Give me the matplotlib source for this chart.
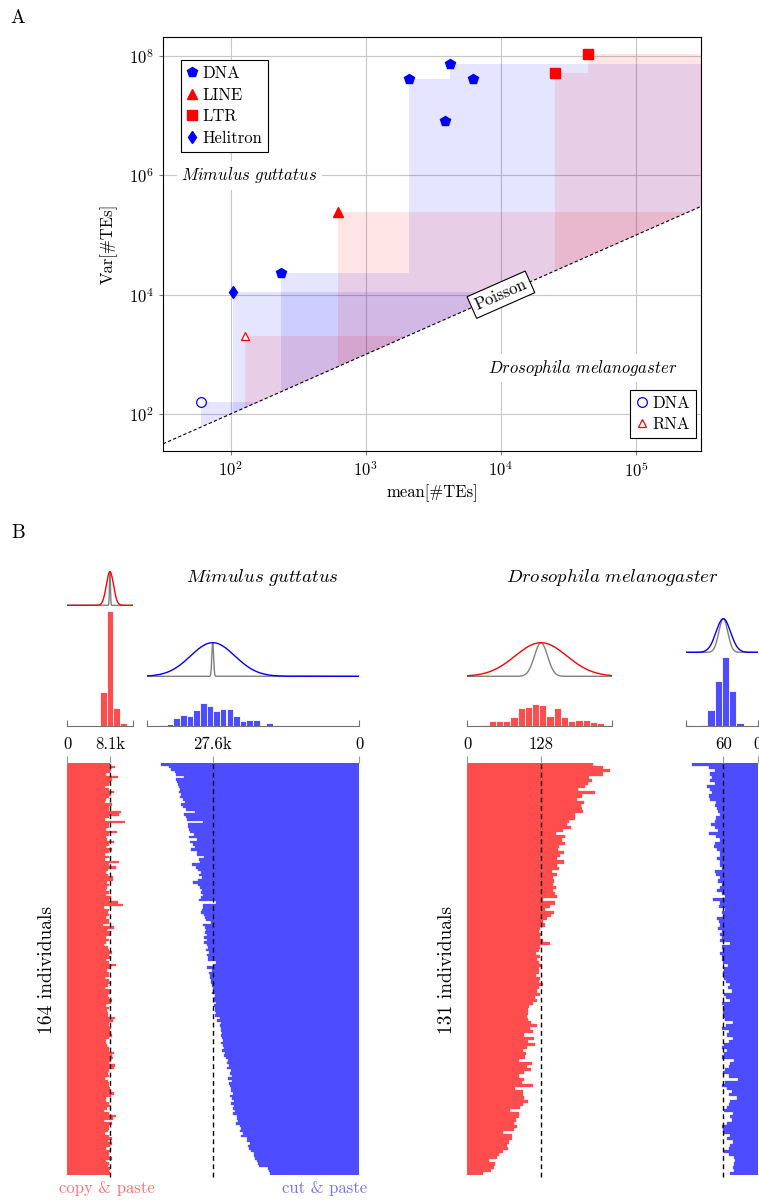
import numpy as np
import matplotlib
matplotlib.use('Agg')
import matplotlib.pyplot as plt
from matplotlib.path import Path
from matplotlib.patches import PathPatch

plt.rcParams['font.family'] = 'serif'
plt.rcParams['font.serif'] = ['cmr10']
plt.rcParams['mathtext.fontset'] = 'cm'
plt.rcParams['axes.formatter.use_mathtext'] = True
plt.rcParams['font.size'] = 12

# ---- panel A: mean / variance of TE counts per family ----
mg_dna_mean = [2089, 4169, 6194, 3852, 236]
mg_dna_var = [4.11e7, 7.43e7, 4.06e7, 8.22e6, 2.28e4]
mg_line_mean = [627]
mg_line_var = [2.40e5]
mg_ltr_mean = [25060, 44150]
mg_ltr_var = [5.19e7, 1.07e8]
mg_heli_mean = [105]
mg_heli_var = [1.10e4]
dm_dna_mean = [60]
dm_dna_var = [161]
dm_rna_mean = [128]
dm_rna_var = [2050]

# ---- panel B: TE counts per individual ----
# Mimulus guttatus, thousands of copies
mg_copy = [
    8.1, 9.1, 8.3, 8.1, 7.3, 9.7, 8.4, 8.1, 7.9, 7.2,
    8.0, 8.8, 8.3, 7.9, 7.4, 7.1, 8.4, 7.9, 8.0, 10.2,
    9.8, 7.9, 7.2, 10.9, 8.0, 7.9, 7.3, 9.5, 8.0, 7.4,
    7.6, 8.9, 8.0, 7.3, 8.4, 8.0, 7.2, 7.9, 7.1, 9.8,
    8.0, 9.3, 7.8, 7.3, 7.8, 8.7, 8.6, 7.6, 7.9, 7.5,
    7.3, 8.0, 7.4, 8.3, 8.0, 9.7, 10.5, 6.9, 8.0, 7.7,
    8.0, 7.3, 7.9, 8.0, 6.7, 8.9, 7.6, 8.3, 8.1, 7.3,
    8.0, 7.4, 7.0, 7.8, 7.9, 8.5, 7.9, 8.1, 7.3, 7.9,
    9.2, 8.2, 7.5, 7.9, 8.0, 7.2, 8.0, 8.1, 7.8, 7.1,
    8.1, 8.2, 7.8, 7.9, 8.5, 8.3, 7.3, 7.9, 7.6, 7.8,
    7.8, 9.1, 8.6, 8.0, 7.9, 8.3, 8.1, 8.3, 8.5, 7.9,
    7.4, 7.3, 7.6, 7.9, 8.0, 8.9, 8.5, 8.6, 8.3, 8.0,
    9.1, 8.9, 8.0, 7.8, 8.0, 7.2, 7.8, 8.0, 7.9, 8.1,
    8.2, 8.9, 8.3, 7.3, 7.4, 7.9, 8.3, 7.6, 7.0, 7.9,
    9.3, 8.6, 7.0, 8.5, 7.9, 7.9, 7.8, 7.2, 8.0, 8.5,
    7.7, 8.4, 8.1, 7.4, 8.2, 8.0, 7.9, 8.4, 7.3, 8.0,
    7.8, 8.2, 7.9, 8.1]
mg_cut = [
    37.3, 35.9, 35.4, 34.8, 34.6, 33.0, 34.5, 34.3, 34.1, 33.9,
    33.8, 34.0, 33.6, 33.7, 33.2, 32.9, 33.6, 33.3, 32.7, 30.9,
    33.0, 32.6, 32.5, 29.4, 32.3, 32.2, 32.0, 31.9, 31.2, 32.1,
    30.6, 31.8, 31.4, 30.9, 31.7, 30.5, 30.6, 29.3, 30.1, 30.0,
    31.5, 30.7, 30.4, 29.9, 30.2, 29.6, 30.3, 31.3, 30.3, 30.0,
    29.7, 29.9, 29.5, 29.8, 30.2, 27.0, 29.5, 29.4, 29.6, 29.8,
    29.3, 29.0, 28.9, 27.9, 29.4, 29.1, 28.8, 29.0, 28.7, 29.2,
    28.7, 29.2, 28.6, 28.4, 28.9, 28.3, 28.7, 28.5, 28.4, 27.0,
    27.4, 28.6, 27.8, 28.3, 28.2, 28.1, 27.9, 28.0, 27.7, 27.6,
    27.3, 27.8, 27.2, 27.4, 27.4, 27.0, 27.3, 27.2, 27.1, 26.9,
    27.2, 26.2, 26.7, 26.0, 26.2, 26.1, 26.1, 25.9, 26.0, 25.8,
    25.7, 26.1, 25.6, 25.5, 25.9, 25.3, 25.5, 25.1, 24.8, 24.9,
    24.6, 24.9, 24.2, 24.4, 24.0, 24.7, 23.9, 24.5, 24.3, 24.1,
    24.2, 23.7, 24.4, 24.0, 23.6, 24.1, 23.6, 23.7, 23.4, 23.7,
    23.1, 23.0, 22.9, 23.3, 22.4, 22.3, 22.4, 21.9, 22.2, 21.2,
    21.1, 20.5, 20.9, 20.7, 20.3, 19.9, 19.9, 19.6, 19.2, 19.0,
    18.8, 17.2, 17.0, 16.8]
# Drosophila melanogaster, copies
dm_copy = [
    218.5, 236.0, 247.4, 234.7, 211.6, 215.7, 209.9, 204.2, 192.6, 221.5,
    198.4, 189.7, 202.4, 196.6, 198.4, 201.3, 186.9, 186.9, 177.0, 173.6,
    179.4, 165.5, 154.0, 169.6, 163.8, 169.6, 159.7, 158.0, 167.2, 160.5,
    155.1, 167.2, 156.3, 159.7, 146.4, 155.1, 149.3, 150.5, 149.3, 154.0,
    148.2, 152.2, 156.3, 130.9, 152.2, 143.6, 134.9, 150.5, 144.7, 139.0,
    130.9, 135.5, 126.3, 124.0, 128.6, 126.3, 130.9, 143.6, 126.3, 124.0,
    119.4, 126.3, 121.7, 124.0, 130.3, 125.1, 125.1, 119.4, 126.3, 124.0,
    130.9, 124.0, 121.7, 126.3, 117.6, 120.5, 113.6, 108.0, 106.1, 106.1,
    103.0, 106.1, 110.1, 121.7, 109.0, 113.6, 98.6, 115.9, 106.1, 118.2,
    103.2, 97.5, 102.1, 101.0, 89.4, 111.9, 104.4, 110.0, 98.6, 89.4,
    98.6, 94.6, 113.6, 83.0, 96.3, 97.5, 98.6, 106.1, 97.5, 91.7,
    74.4, 90.5, 90.5, 84.0, 81.3, 85.9, 81.3, 61.7, 77.3, 77.3,
    73.2, 68.6, 71.5, 61.7, 56.0, 52.5, 38.6, 49.0, 46.7, 41.0,
    27.1]
dm_cut = [
    114.9, 85.3, 74.5, 82.4, 79.5, 83.6, 74.0, 88.1, 83.6, 79.5,
    85.3, 82.4, 73.0, 73.8, 70.9, 69.7, 66.3, 72.0, 73.8, 81.2,
    74.8, 69.7, 85.3, 72.0, 66.3, 73.8, 75.5, 70.9, 65.2, 66.3,
    70.9, 65.2, 66.3, 62.0, 74.4, 72.0, 66.3, 69.7, 62.0, 66.3,
    70.9, 62.3, 56.6, 77.8, 66.3, 68.0, 56.6, 62.3, 59.5, 70.9,
    68.0, 65.2, 68.6, 62.3, 66.3, 62.0, 65.2, 48.0, 62.3, 60.6,
    66.3, 62.3, 62.3, 60.6, 52.6, 59.5, 60.6, 60.6, 58.3, 54.9,
    49.2, 52.6, 45.2, 59.5, 54.9, 48.0, 62.3, 59.5, 59.5, 60.6,
    58.3, 56.6, 43.5, 54.9, 62.3, 49.5, 53.7, 43.5, 49.5, 59.5,
    62.3, 53.7, 59.5, 62.3, 42.3, 49.2, 49.5, 56.6, 60.6, 49.5,
    33.8, 56.6, 62.0, 53.7, 45.2, 49.5, 36.5, 48.0, 50.9, 53.7,
    59.5, 43.5, 49.2, 45.2, 53.7, 62.3, 60.6, 58.3, 48.0, 53.7,
    43.5, 48.0, 50.9, 58.3, 50.9, 42.3, 39.5, 41.2, 43.5, 42.3,
    48.0]
mean_labels = ['8.1k', '27.6k', '128', '60']
mean_vals = [8.1, 27.6, 128, 60]

W, H = 759, 1201
fig = plt.figure(figsize=(W / 100, H / 100), dpi=100)


def box(x0, y0, x1, y1):
    # axes placed by pixel corners, origin top-left
    return fig.add_axes([x0 / W, 1 - y1 / H, (x1 - x0) / W, (y1 - y0) / H])


blue = (0, 0, 1)
red = (1, 0, 0)

# ================= A =================
ax = box(163, 37, 701, 451)
ax.set_xscale('log')
ax.set_yscale('log')
ax.set_xlim(10 ** 1.5, 10 ** 5.48)
ax.set_ylim(10 ** 1.38, 10 ** 8.32)
ax.set_xticks([1e2, 1e3, 1e4, 1e5])
ax.set_yticks([1e2, 1e4, 1e6, 1e8])
ax.xaxis.set_minor_locator(plt.NullLocator())
ax.yaxis.set_minor_locator(plt.NullLocator())
ax.set_axisbelow(True)
ax.grid(True, color='0.78', lw=0.8)
ax.tick_params(direction='out', length=3, color='0.5', labelsize=12)
for sp in ax.spines.values():
    sp.set_linewidth(0.8)
xlo, xhi = ax.get_xlim()


def region(means, vars_, color):
    # area between the Poisson line and each family's variance, right of its mean;
    # one compound path per family so its own pieces do not stack
    parts = []
    for m, v in zip(means, vars_):
        e = min(v, xhi)
        parts.append(Path([(m, m), (m, v), (e, v), (e, e), (m, m)], closed=True))
    ax.add_patch(PathPatch(Path.make_compound_path(*parts), fc=color, alpha=0.1, lw=0))


region(mg_dna_mean, mg_dna_var, blue)
region(mg_heli_mean, mg_heli_var, blue)
region(dm_dna_mean, dm_dna_var, blue)
region(mg_line_mean, mg_line_var, red)
region(mg_ltr_mean, mg_ltr_var, red)
region(dm_rna_mean, dm_rna_var, red)

ax.plot([xlo, xhi], [xlo, xhi], color='black', lw=0.8, dashes=(3, 2))

h1, = ax.plot(mg_dna_mean, mg_dna_var, ls='none', marker='p', ms=7.5, color=blue, label='DNA')
h2, = ax.plot(mg_line_mean, mg_line_var, ls='none', marker='^', ms=6.5, color=red, label='LINE')
h3, = ax.plot(mg_ltr_mean, mg_ltr_var, ls='none', marker='s', ms=6.5, color=red, label='LTR')
h4, = ax.plot(mg_heli_mean, mg_heli_var, ls='none', marker='d', ms=6.5, color=blue, label='Helitron')
h5, = ax.plot(dm_dna_mean, dm_dna_var, ls='none', marker='o', ms=7, mfc='white', mec=blue, mew=0.9, label='DNA')
h6, = ax.plot(dm_rna_mean, dm_rna_var, ls='none', marker='^', ms=6, mfc='white', mec=red, mew=0.9, label='RNA')

leg_kw = dict(frameon=True, fancybox=False, edgecolor='black', framealpha=1,
              handlelength=0.7, handletextpad=0.25, borderpad=0.35,
              labelspacing=0.38, borderaxespad=0, fontsize=12, numpoints=1)
leg1 = ax.legend(handles=[h1, h2, h3, h4], loc='upper left',
                 bbox_to_anchor=(0.033, 0.945), **leg_kw)
leg1.get_frame().set_linewidth(0.8)
ax.add_artist(leg1)
leg2 = ax.legend(handles=[h5, h6], loc='lower right',
                 bbox_to_anchor=(0.99, 0.031), **leg_kw)
leg2.get_frame().set_linewidth(0.8)

ax.text(138, 1e6, r'$\mathit{Mimulus\ guttatus}$', ha='center', va='center',
        fontsize=12, bbox=dict(fc='white', ec='none', pad=3))
ax.text(39900, 590, r'$\mathit{Drosophila\ melanogaster}$', ha='center', va='center',
        fontsize=12, bbox=dict(fc='white', ec='none', pad=3))
p = ax.transData.transform([(1e3, 1e3), (1e4, 1e4)])
ang = np.degrees(np.arctan2(p[1, 1] - p[0, 1], p[1, 0] - p[0, 0]))
ax.text(1e4, 1e4, 'Poisson', rotation=ang, rotation_mode='anchor', ha='center',
        va='center', fontsize=12,
        bbox=dict(fc='white', ec='black', lw=0.8, boxstyle='square,pad=0.25'))

ax.set_xlabel('mean[#TEs]', labelpad=3)
ax.set_ylabel('Var[#TEs]', labelpad=8)

fig.text(18 / W, 1 - 18 / H, 'A', fontsize=14, ha='center', va='center')
fig.text(18 / W, 1 - 533 / H, 'B', fontsize=14, ha='center', va='center')

# ================= B =================
bar_red = (1, 0.3, 0.3)
bar_blue = (0.3, 0.3, 1)


def column(x0, x1, vals, mean, label, lim, fill, line, bin_w, unit, cy0, cy1):
    n = len(vals)
    # horizontal bars, one per individual
    axb = box(x0, 763, x1, 1175)
    axb.barh(np.arange(n), vals, height=1.0, color=fill, ec=fill, lw=0.2)
    axb.set_ylim(n - 0.5, -0.5)
    axb.set_xlim(*lim)
    axb.axvline(mean, ymin=-0.005, color='black', lw=1.0, dashes=(3.5, 2.5), clip_on=False)
    axb.xaxis.tick_top()
    axb.set_xticks([0, mean])
    axb.set_xticklabels(['0', label])
    axb.tick_params(axis='x', length=5, width=0.8, color='0.6', pad=3, labelsize=12)
    axb.set_yticks([])
    for sp in axb.spines.values():
        sp.set_visible(False)

    # histogram as fraction of individuals
    axh = box(x0, 610, x1, 726)
    edges = np.arange(0, max(lim) + bin_w / 2, bin_w)
    axh.hist(vals, bins=edges, weights=np.full(n, 1.0 / n), color=fill,
             ec='white', lw=0.6)
    axh.set_xlim(*lim)
    axh.set_ylim(0, 116 / 170)
    axh.set_xticks(list(lim))
    axh.set_xticklabels([])
    axh.tick_params(axis='x', direction='in', length=4, width=0.8, color='0.45')
    axh.set_yticks([])
    for s in ('top', 'left', 'right'):
        axh.spines[s].set_visible(False)
    axh.spines['bottom'].set_color('0.45')
    axh.spines['bottom'].set_linewidth(0.8)

    # observed spread against the Poisson expectation
    axc = box(x0, cy0, x1, cy1)
    xs = np.linspace(min(lim), max(lim), 3000)
    sd = np.std(vals)
    sd_p = np.sqrt(mean * unit) / unit
    axc.plot(xs, np.exp(-0.5 * ((xs - mean) / sd_p) ** 2), color='0.5', lw=1.0)
    axc.plot(xs, np.exp(-0.5 * ((xs - mean) / sd) ** 2), color=line, lw=1.0)
    axc.set_xlim(*lim)
    axc.set_ylim(-0.02, 1.05)
    axc.axis('off')


column(67, 133.25, mg_copy, mean_vals[0], mean_labels[0], (0, 12.5), bar_red, red, 1.25, 1000, 570, 606)
column(147, 359, mg_cut, mean_vals[1], mean_labels[1], (40, 0), bar_blue, blue, 1.25, 1000, 641, 677)
column(467, 611.5, dm_copy, mean_vals[2], mean_labels[2], (0, 250), bar_red, red, 12.5, 1, 641, 677)
column(685.75, 758, dm_cut, mean_vals[3], mean_labels[3], (125, 0), bar_blue, blue, 12.5, 1, 617, 653)

fig.text(262 / W, 1 - 578 / H, r'$\mathit{Mimulus\ guttatus}$', fontsize=13.5, ha='center', va='center')
fig.text(612 / W, 1 - 578 / H, r'$\mathit{Drosophila\ melanogaster}$', fontsize=13.5, ha='center', va='center')
fig.text(47 / W, 1 - 970 / H, '164 individuals', rotation=90, fontsize=14, ha='center', va='center')
fig.text(447 / W, 1 - 970 / H, '131 individuals', rotation=90, fontsize=14, ha='center', va='center')
fig.text(107 / W, 1 - 1188 / H, 'copy & paste', color='#ff7070', fontsize=12, ha='center', va='center')
fig.text(325 / W, 1 - 1188 / H, 'cut & paste', color='#7070ff', fontsize=12, ha='center', va='center')

fig.savefig('out.png', dpi=100)
